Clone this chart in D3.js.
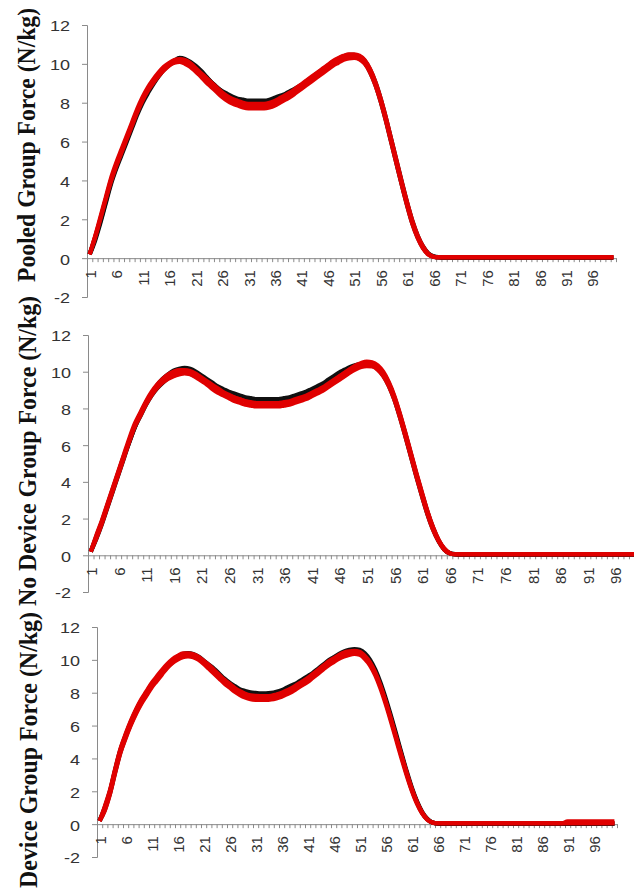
<!DOCTYPE html>
<html>
<head>
<meta charset="utf-8">
<script src="https://cdnjs.cloudflare.com/ajax/libs/d3/7.8.5/d3.min.js"></script>
<style>
body{margin:0;background:#fff;}
svg{display:block;}
</style>
</head>
<body>
<script>
//self-executing anonymous function to keep things local
(function(){

//categories (percent of stance) and tick labels
var categories = d3.range(1, 101);
var xTickLabels = ["1","6","11","16","21","26","31","36","41","46","51","56","61","66","71","76","81","86","91","96"];
var yTicks = [-2, 0, 2, 4, 6, 8, 10, 12];
var panelTitles = ["Pooled Group Force (N/kg)", "No Device Group Force (N/kg)", "Device Group Force (N/kg)"];

//pooled group, black curves
var pooledBlack1 = [
    0.2,1.0,1.9,2.9,3.9,4.7,5.4,6.1,6.8,7.5,
    8.1,8.6,9.0,9.4,9.7,9.95,10.1,10.2,10.15,10.0,
    9.8,9.55,9.3,9.05,8.8,8.6,8.45,8.3,8.2,8.15,
    8.1,8.1,8.1,8.1,8.15,8.25,8.35,8.45,8.6,8.75,
    8.9,9.1,9.3,9.5,9.7,9.9,10.1,10.25,10.38,10.45,
    10.45,10.38,10.15,9.7,9.05,8.2,7.2,6.1,5.0,3.9,
    2.85,1.9,1.15,0.6,0.25,0.09,0.04,0.03,0.03,0.03,
    0.03,0.03,0.03,0.03,0.03,0.03,0.03,0.03,0.03,0.03,
    0.03,0.03,0.03,0.03,0.03,0.03,0.03,0.03,0.03,0.03,
    0.03,0.03,0.03,0.03,0.03,0.03,0.03,0.03,0.03,0.03];
var pooledBlack2 = [
    0.2,0.9,1.8,2.8,3.8,4.6,5.3,6.0,6.7,7.4,
    8.0,8.5,8.95,9.35,9.7,9.95,10.15,10.3,10.25,10.1,
    9.9,9.65,9.35,9.05,8.8,8.55,8.35,8.2,8.1,8.05,
    8.0,8.0,8.0,8.0,8.05,8.15,8.25,8.35,8.5,8.65,
    8.8,9.0,9.2,9.4,9.6,9.8,10.0,10.15,10.28,10.35,
    10.35,10.28,10.05,9.6,8.95,8.1,7.1,6.0,4.9,3.8,
    2.75,1.8,1.08,0.55,0.22,0.08,0.04,0.03,0.03,0.03,
    0.03,0.03,0.03,0.03,0.03,0.03,0.03,0.03,0.03,0.03,
    0.03,0.03,0.03,0.03,0.03,0.03,0.03,0.03,0.03,0.03,
    0.03,0.03,0.03,0.03,0.03,0.03,0.03,0.03,0.03,0.03];

//pooled group, red curves
var pooledRed1 = [
    0.2,1.1,2.0,3.0,4.0,4.8,5.5,6.2,6.9,7.6,
    8.2,8.7,9.1,9.45,9.75,10.0,10.15,10.2,10.1,9.95,
    9.7,9.45,9.15,8.9,8.65,8.4,8.2,8.05,7.95,7.85,
    7.8,7.8,7.8,7.8,7.85,7.95,8.1,8.25,8.4,8.6,
    8.8,9.0,9.2,9.4,9.6,9.8,10.0,10.15,10.3,10.38,
    10.4,10.33,10.1,9.65,9.0,8.15,7.15,6.05,4.95,3.85,
    2.8,1.85,1.1,0.55,0.2,0.07,0.04,0.04,0.04,0.04,
    0.04,0.04,0.04,0.04,0.04,0.04,0.04,0.04,0.04,0.04,
    0.04,0.04,0.04,0.04,0.04,0.04,0.04,0.04,0.04,0.04,
    0.04,0.04,0.04,0.04,0.04,0.04,0.04,0.04,0.04,0.04];
var pooledRed2 = [
    0.2,1.0,2.0,3.0,3.9,4.7,5.4,6.1,6.8,7.5,
    8.1,8.6,9.0,9.35,9.65,9.9,10.05,10.1,10.0,9.85,
    9.6,9.35,9.05,8.8,8.55,8.3,8.1,7.95,7.85,7.75,
    7.7,7.7,7.7,7.7,7.75,7.85,8.0,8.15,8.3,8.5,
    8.7,8.9,9.1,9.3,9.5,9.7,9.9,10.05,10.2,10.28,
    10.3,10.23,10.0,9.55,8.9,8.05,7.05,5.95,4.85,3.75,
    2.7,1.75,1.02,0.5,0.18,0.06,0.04,0.04,0.04,0.04,
    0.04,0.04,0.04,0.04,0.04,0.04,0.04,0.04,0.04,0.04,
    0.04,0.04,0.04,0.04,0.04,0.04,0.04,0.04,0.04,0.04,
    0.04,0.04,0.04,0.04,0.04,0.04,0.04,0.04,0.04,0.04];
var pooledRed3 = [
    0.2,1.1,2.1,3.1,4.1,4.9,5.6,6.3,7.0,7.7,
    8.3,8.8,9.2,9.55,9.85,10.05,10.2,10.25,10.2,10.05,
    9.8,9.55,9.3,9.05,8.8,8.55,8.35,8.2,8.1,8.0,
    7.95,7.95,7.95,7.95,8.0,8.1,8.25,8.4,8.55,8.75,
    8.95,9.15,9.35,9.55,9.75,9.95,10.15,10.3,10.42,10.5,
    10.5,10.43,10.2,9.75,9.1,8.25,7.25,6.15,5.05,3.95,
    2.9,1.95,1.18,0.62,0.24,0.08,0.04,0.04,0.04,0.04,
    0.04,0.04,0.04,0.04,0.04,0.04,0.04,0.04,0.04,0.04,
    0.04,0.04,0.04,0.04,0.04,0.04,0.04,0.04,0.04,0.04,
    0.04,0.04,0.04,0.04,0.04,0.04,0.04,0.04,0.04,0.04];

//no device group, black curves
var noDeviceBlack1 = [
    0.2,1.0,1.8,2.7,3.6,4.5,5.4,6.2,7.0,7.7,
    8.3,8.8,9.25,9.6,9.85,10.05,10.15,10.2,10.15,10.0,
    9.8,9.6,9.4,9.2,9.05,8.9,8.8,8.7,8.6,8.55,
    8.5,8.5,8.5,8.5,8.5,8.55,8.6,8.7,8.8,8.9,
    9.05,9.2,9.35,9.55,9.75,9.95,10.1,10.25,10.35,10.42,
    10.45,10.42,10.25,9.9,9.35,8.6,7.65,6.6,5.5,4.4,
    3.35,2.35,1.5,0.82,0.36,0.12,0.05,0.04,0.04,0.04,
    0.04,0.04,0.04,0.04,0.04,0.04,0.04,0.04,0.04,0.04,
    0.04,0.04,0.04,0.04,0.04,0.04,0.04,0.04,0.04,0.04,
    0.04,0.04,0.04,0.04,0.04,0.04,0.04,0.04,0.04,0.04];
var noDeviceBlack2 = [
    0.2,0.9,1.7,2.6,3.5,4.4,5.3,6.2,7.0,7.6,
    8.2,8.7,9.1,9.4,9.65,9.8,9.9,9.95,9.9,9.75,
    9.6,9.4,9.2,9.0,8.85,8.7,8.6,8.5,8.45,8.4,
    8.35,8.35,8.35,8.35,8.35,8.4,8.45,8.55,8.65,8.75,
    8.9,9.05,9.2,9.4,9.6,9.8,9.95,10.1,10.25,10.32,
    10.35,10.32,10.15,9.8,9.25,8.5,7.55,6.5,5.4,4.3,
    3.25,2.25,1.42,0.78,0.33,0.11,0.05,0.04,0.04,0.04,
    0.04,0.04,0.04,0.04,0.04,0.04,0.04,0.04,0.04,0.04,
    0.04,0.04,0.04,0.04,0.04,0.04,0.04,0.04,0.04,0.04,
    0.04,0.04,0.04,0.04,0.04,0.04,0.04,0.04,0.04,0.04];

//no device group, red curves
var noDeviceRed1 = [
    0.2,1.0,1.8,2.7,3.6,4.5,5.4,6.3,7.1,7.7,
    8.3,8.8,9.2,9.5,9.75,9.9,10.0,10.0,9.95,9.8,
    9.6,9.4,9.2,9.0,8.85,8.7,8.6,8.5,8.4,8.35,
    8.3,8.3,8.3,8.3,8.3,8.35,8.4,8.5,8.6,8.7,
    8.85,9.0,9.15,9.35,9.55,9.75,9.95,10.15,10.3,10.4,
    10.45,10.42,10.25,9.9,9.35,8.6,7.65,6.6,5.5,4.4,
    3.35,2.35,1.5,0.82,0.36,0.12,0.05,0.05,0.05,0.05,
    0.05,0.05,0.05,0.05,0.05,0.05,0.05,0.05,0.05,0.05,
    0.05,0.05,0.05,0.05,0.05,0.05,0.05,0.05,0.05,0.05,
    0.05,0.05,0.05,0.05,0.05,0.05,0.05,0.05,0.05,0.05];
var noDeviceRed2 = [
    0.2,0.9,1.7,2.6,3.5,4.4,5.3,6.2,7.0,7.6,
    8.2,8.7,9.1,9.4,9.6,9.75,9.85,9.9,9.85,9.7,
    9.5,9.3,9.05,8.85,8.7,8.55,8.4,8.3,8.2,8.15,
    8.1,8.1,8.1,8.1,8.1,8.15,8.2,8.3,8.4,8.5,
    8.65,8.8,8.95,9.15,9.35,9.55,9.75,9.95,10.12,10.25,
    10.3,10.28,10.1,9.75,9.2,8.45,7.5,6.45,5.35,4.25,
    3.2,2.22,1.38,0.76,0.31,0.1,0.05,0.05,0.05,0.05,
    0.05,0.05,0.05,0.05,0.05,0.05,0.05,0.05,0.05,0.05,
    0.05,0.05,0.05,0.05,0.05,0.05,0.05,0.05,0.05,0.05,
    0.05,0.05,0.05,0.05,0.05,0.05,0.05,0.05,0.05,0.05];
var noDeviceRed3 = [
    0.2,1.1,1.9,2.8,3.7,4.6,5.5,6.4,7.2,7.8,
    8.4,8.9,9.3,9.6,9.85,10.0,10.1,10.1,10.05,9.9,
    9.7,9.5,9.3,9.1,8.9,8.75,8.6,8.5,8.4,8.3,
    8.25,8.2,8.2,8.2,8.2,8.25,8.3,8.4,8.5,8.6,
    8.75,8.9,9.1,9.3,9.5,9.75,9.95,10.15,10.35,10.48,
    10.55,10.52,10.35,10.0,9.45,8.7,7.75,6.7,5.6,4.5,
    3.45,2.42,1.55,0.87,0.39,0.13,0.05,0.05,0.05,0.05,
    0.05,0.05,0.05,0.05,0.05,0.05,0.05,0.05,0.05,0.05,
    0.05,0.05,0.05,0.05,0.05,0.05,0.05,0.05,0.05,0.05,
    0.05,0.05,0.05,0.05,0.05,0.05,0.05,0.05,0.05,0.05];

//device group, black curves
var deviceBlack1 = [
    0.2,1.0,2.0,3.3,4.5,5.4,6.2,6.9,7.5,8.0,
    8.5,8.9,9.3,9.65,9.95,10.2,10.35,10.4,10.35,10.2,
    9.95,9.7,9.45,9.15,8.85,8.6,8.4,8.2,8.1,8.02,
    7.98,7.95,7.95,7.98,8.05,8.15,8.3,8.45,8.6,8.8,
    9.0,9.2,9.45,9.7,9.95,10.15,10.35,10.5,10.6,10.65,
    10.6,10.4,10.0,9.4,8.6,7.65,6.6,5.5,4.35,3.25,
    2.25,1.4,0.75,0.32,0.1,0.04,0.03,0.03,0.03,0.03,
    0.03,0.03,0.03,0.03,0.03,0.03,0.03,0.03,0.03,0.03,
    0.03,0.03,0.03,0.03,0.03,0.03,0.03,0.03,0.03,0.03,
    0.03,0.03,0.03,0.03,0.03,0.03,0.03,0.03,0.03,0.03];
var deviceBlack2 = [
    0.2,0.9,1.9,3.2,4.4,5.3,6.1,6.8,7.4,7.9,
    8.4,8.8,9.2,9.55,9.85,10.1,10.25,10.3,10.25,10.1,
    9.85,9.6,9.3,9.0,8.7,8.45,8.25,8.05,7.95,7.9,
    7.86,7.85,7.85,7.88,7.95,8.05,8.2,8.35,8.5,8.7,
    8.9,9.1,9.35,9.6,9.85,10.05,10.25,10.4,10.5,10.5,
    10.45,10.25,9.85,9.25,8.45,7.5,6.45,5.35,4.25,3.15,
    2.15,1.35,0.7,0.3,0.1,0.04,0.03,0.03,0.03,0.03,
    0.03,0.03,0.03,0.03,0.03,0.03,0.03,0.03,0.03,0.03,
    0.03,0.03,0.03,0.03,0.03,0.03,0.03,0.03,0.03,0.03,
    0.03,0.03,0.03,0.03,0.03,0.03,0.03,0.03,0.03,0.03];

//device group, red curves
var deviceRed1 = [
    0.2,1.0,2.0,3.3,4.5,5.4,6.2,6.9,7.5,8.0,
    8.5,8.9,9.3,9.65,9.95,10.15,10.3,10.35,10.3,10.15,
    9.9,9.6,9.3,9.0,8.7,8.45,8.2,8.0,7.85,7.75,
    7.72,7.7,7.7,7.72,7.8,7.9,8.05,8.2,8.4,8.6,
    8.8,9.05,9.3,9.55,9.8,10.0,10.2,10.35,10.45,10.5,
    10.45,10.2,9.8,9.2,8.4,7.45,6.4,5.3,4.2,3.15,
    2.15,1.32,0.7,0.3,0.1,0.05,0.05,0.05,0.05,0.05,
    0.05,0.05,0.05,0.05,0.05,0.05,0.05,0.05,0.05,0.05,
    0.05,0.05,0.05,0.05,0.05,0.05,0.05,0.05,0.05,0.05,
    0.05,0.05,0.05,0.05,0.05,0.05,0.05,0.05,0.05,0.05];
var deviceRed2 = [
    0.2,0.8,1.8,3.1,4.3,5.2,6.0,6.7,7.3,7.8,
    8.3,8.7,9.1,9.5,9.8,10.0,10.15,10.2,10.15,10.0,
    9.75,9.45,9.15,8.85,8.55,8.3,8.05,7.85,7.7,7.6,
    7.56,7.55,7.55,7.58,7.65,7.75,7.9,8.05,8.25,8.45,
    8.65,8.9,9.15,9.4,9.65,9.85,10.05,10.2,10.3,10.35,
    10.3,10.05,9.65,9.05,8.25,7.3,6.25,5.15,4.05,3.0,
    2.05,1.25,0.66,0.27,0.09,0.05,0.05,0.05,0.05,0.05,
    0.05,0.05,0.05,0.05,0.05,0.05,0.05,0.05,0.05,0.05,
    0.05,0.05,0.05,0.05,0.05,0.05,0.05,0.05,0.05,0.05,
    0.05,0.05,0.05,0.05,0.05,0.05,0.05,0.05,0.05,0.05];
var deviceRed3 = [
    0.2,1.1,2.1,3.4,4.6,5.5,6.3,7.0,7.6,8.1,
    8.6,9.0,9.4,9.75,10.05,10.25,10.4,10.4,10.35,10.2,
    9.95,9.7,9.4,9.1,8.8,8.55,8.3,8.1,7.95,7.85,
    7.81,7.8,7.8,7.82,7.9,8.0,8.15,8.3,8.5,8.7,
    8.9,9.15,9.4,9.65,9.9,10.1,10.3,10.45,10.52,10.55,
    10.5,10.25,9.85,9.25,8.45,7.5,6.45,5.35,4.25,3.2,
    2.2,1.38,0.74,0.31,0.1,0.05,0.05,0.05,0.05,0.05,
    0.05,0.05,0.05,0.05,0.05,0.05,0.05,0.05,0.05,0.05,
    0.05,0.05,0.05,0.05,0.05,0.05,0.05,0.05,0.05,0.05,
    0.18,0.18,0.18,0.18,0.18,0.18,0.18,0.18,0.18,0.18];

//panel layout (pixel frame of each plot area)
var panels = [
    {title: panelTitles[0], black: [pooledBlack1, pooledBlack2], red: [pooledRed1, pooledRed2, pooledRed3],
        left: 87, right: 616, top: 25, bottom: 297, titleX: 27, titleY: 145, titleLen: 274},
    {title: panelTitles[1], black: [noDeviceBlack1, noDeviceBlack2], red: [noDeviceRed1, noDeviceRed2, noDeviceRed3],
        left: 88, right: 640, top: 335, bottom: 592, titleX: 28, titleY: 451, titleLen: 310},
    {title: panelTitles[2], black: [deviceBlack1, deviceBlack2], red: [deviceRed1, deviceRed2, deviceRed3],
        left: 97, right: 617, top: 627, bottom: 857, titleX: 29, titleY: 750, titleLen: 276}
];

var width = 634,
    height = 890;

//create svg container
var svg = d3.select("body")
    .append("svg")
    .attr("width", width)
    .attr("height", height);

panels.forEach(function(p){
    drawPanel(svg, p);
});

//draw one stacked panel
function drawPanel(svg, p){

    var g = svg.append("g");

    //scales
    var x = d3.scaleBand()
        .domain(categories)
        .range([p.left, p.right]);
    var xEdge = d3.scaleLinear()
        .domain([0, categories.length])
        .range([p.left, p.right]);
    var y = d3.scaleLinear()
        .domain([-2, 12])
        .range([p.bottom, p.top]);

    //y axis line and ticks
    g.append("g")
        .attr("class", "yaxis")
        .attr("transform", "translate(" + p.left + ",0)")
        .call(d3.axisLeft(y).tickValues(yTicks).tickSize(5).tickSizeOuter(5).tickFormat(""));

    //y tick labels
    g.selectAll(".ylab")
        .data(yTicks)
        .enter()
        .append("text")
        .attr("class", "ylab")
        .attr("transform", function(d){
            return "translate(" + (p.left - 17) + "," + (y(d) + 1) + ") scale(1.2,1)";
        })
        .attr("text-anchor", "end")
        .attr("dy", "0.36em")
        .text(function(d){ return String(d); });

    //x axis at zero with a tick at every category boundary
    g.append("g")
        .attr("class", "xaxis")
        .attr("transform", "translate(0," + y(0) + ")")
        .call(d3.axisBottom(xEdge).tickValues(d3.range(0, categories.length + 1)).tickSize(4).tickSizeOuter(0).tickFormat(""));

    //rotated x tick labels
    g.selectAll(".xlab")
        .data(xTickLabels)
        .enter()
        .append("text")
        .attr("class", "xlab")
        .attr("transform", function(d){
            return "translate(" + (x(+d) + x.bandwidth() / 2 + 1) + "," + (y(0) + 12) + ") rotate(-90)";
        })
        .attr("text-anchor", "end")
        .attr("dy", "0.35em")
        .text(function(d){ return d; });

    g.selectAll(".domain, .tick line")
        .attr("stroke", "#8a8a8a")
        .attr("stroke-width", 1);

    //line generator
    var line = d3.line()
        .x(function(d, i){ return x(categories[i]) + x.bandwidth() / 2; })
        .y(function(d){ return y(d); })
        .curve(d3.curveMonotoneX);

    //black curves underneath, red curves on top
    g.selectAll(".blackLine")
        .data(p.black)
        .enter()
        .append("path")
        .attr("class", "blackLine")
        .attr("d", line)
        .attr("fill", "none")
        .attr("stroke", "#111")
        .attr("stroke-width", 4.5)
        .attr("stroke-linejoin", "round");

    g.selectAll(".redLine")
        .data(p.red)
        .enter()
        .append("path")
        .attr("class", "redLine")
        .attr("d", line)
        .attr("fill", "none")
        .attr("stroke", "#e00000")
        .attr("stroke-width", 4)
        .attr("stroke-linejoin", "round");

    //rotated axis title
    g.append("text")
        .attr("class", "title")
        .attr("transform", "translate(" + p.titleX + "," + p.titleY + ") scale(1.2,1) rotate(-90)")
        .attr("text-anchor", "middle")
        .attr("dy", "0.3em")
        .attr("textLength", p.titleLen)
        .attr("lengthAdjust", "spacingAndGlyphs")
        .text(p.title);
};

//text styling
svg.selectAll(".ylab")
    .style("font-family", "'Liberation Sans', Arial, sans-serif")
    .style("font-size", "15px")
    .style("fill", "#333");
svg.selectAll(".xlab")
    .style("font-family", "'Liberation Sans', Arial, sans-serif")
    .style("font-size", "15px")
    .style("fill", "#333");
svg.selectAll(".title")
    .style("font-family", "'Liberation Serif', 'Times New Roman', serif")
    .style("font-weight", "bold")
    .style("font-size", "21px")
    .style("fill", "#111");

})();
</script>
</body>
</html>
